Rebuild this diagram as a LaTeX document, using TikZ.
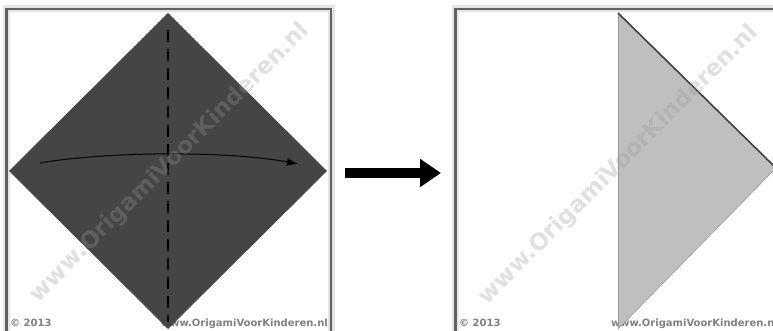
\documentclass[tikz,border=0pt]{standalone}
\usepackage{fontspec}
\newfontfamily\sitefont{DejaVu Sans}
\usetikzlibrary{arrows.meta}
\definecolor{sheet}{HTML}{454545}
\definecolor{paper}{HTML}{BFBFBF}

\begin{document}
\begin{tikzpicture}[x=1pt,y=1pt,
  frame/.style={draw=black!62, line width=2.5pt},
  halo/.style={draw=black!10, line width=7pt},
  credit/.style={text=black!50, inner sep=0pt, font=\sitefont\bfseries\fontsize{10}{10}\selectfont},
  watermark/.style={text=black!40, opacity=0.3, inner sep=0pt, rotate=45, font=\sitefont\bfseries\fontsize{23}{23}\selectfont},
  crease/.style={draw=black, line width=1.2pt, dash pattern=on 12pt off 7pt}]
\useasboundingbox (0,0) rectangle (773,331);
\clip (0,0) rectangle (773,331);
% left panel
\draw[halo] (6.5,-10) -- (6.5,322) -- (331,322) -- (331,-10);
\draw[frame] (6.5,-10) -- (6.5,322) -- (331,322) -- (331,-10);
\node[credit, anchor=base west] (copyleft) at (10,4) {© 2013};
\node[credit, anchor=base east] (siteleft) at (328,4) {www.OrigamiVoorKinderen.nl};
\fill[sheet] (168,318) -- (9,160) -- (168,2) -- (327,160) -- cycle;
\coordinate (creasetop) at (168,301);
\coordinate (creasebot) at (168,9);
\draw[crease] (creasetop) -- (creasebot);
\coordinate (foldstart) at (40,168);
\coordinate (foldend) at (298,167);
\draw[line width=1pt, -{Latex[length=11pt,width=8pt]}] (foldstart) .. controls (110,180) and (230,180) .. (foldend);
\node[watermark] (markleft) at (170,168) {www.OrigamiVoorKinderen.nl};
% step arrow
\coordinate (stepfrom) at (345,158);
\coordinate (stepto) at (441,158);
\draw[line width=10pt, -{Triangle[length=21pt,width=27pt]}] (stepfrom) -- (stepto);
% right panel
\draw[halo] (455.5,-10) -- (455.5,322) -- (790,322);
\draw[frame] (455.5,-10) -- (455.5,322) -- (790,322);
\node[credit, anchor=base west] (copyright) at (459,4) {© 2013};
\node[credit, anchor=base east] (siteright) at (778,4) {www.OrigamiVoorKinderen.nl};
\fill[paper] (618,318) -- (776,163) -- (618,2) -- cycle;
\draw[black!40, line width=0.6pt] (618,2) -- (618,318);
\draw[black!40, line width=0.6pt] (618,2) -- (776,163);
\draw[black!75, line width=1.6pt] (618,318) -- (776,163);
\node[watermark] (markright) at (619,166) {www.OrigamiVoorKinderen.nl};
\end{tikzpicture}
\end{document}
